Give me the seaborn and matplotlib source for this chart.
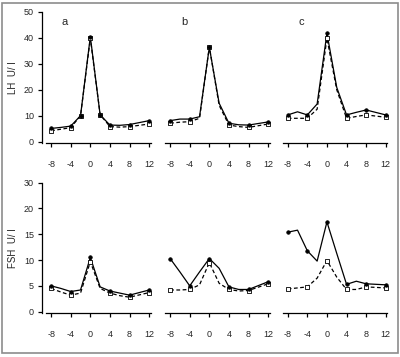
import pandas as pd
import matplotlib
matplotlib.use('Agg')
import matplotlib.pyplot as plt
import seaborn as sns
from matplotlib.patches import Rectangle

# days relative to the LH peak (line points)
days = [-8, -6, -4, -2, 0, 2, 4, 6, 8, 12]

# LH (U/l) - filled circles / solid line, open squares / dashed line
lh_a_filled = [5.1, 5.5, 6.0, 10.0, 40.4, 10.3, 6.4, 6.3, 6.6, 8.1]
lh_a_open = [4.2, 4.8, 5.4, 10.0, 39.8, 10.4, 5.8, 5.6, 5.8, 6.8]
lh_b_filled = [8.1, 8.7, 8.7, 9.6, 36.3, 14.8, 7.1, 6.5, 6.4, 7.6]
lh_b_open = [7.1, 7.5, 7.7, 9.0, 36.5, 14.0, 6.4, 5.8, 5.5, 6.8]
lh_c_filled = [10.3, 11.5, 10.3, 14.5, 41.7, 20.9, 10.3, 11.3, 12.2, 10.3]
lh_c_open = [9.0, 9.0, 9.0, 12.5, 39.8, 20.0, 9.0, 9.7, 10.3, 9.4]

# FSH (U/l)
fsh_a_filled = [5.0, 4.5, 3.9, 4.2, 10.5, 4.8, 4.0, 3.6, 3.2, 4.2]
fsh_a_open = [4.5, 3.8, 3.2, 3.6, 9.7, 4.5, 3.6, 3.1, 2.8, 3.7]
fsh_b_filled = [10.3, 7.7, 5.0, 7.7, 10.3, 8.4, 4.8, 4.3, 4.3, 5.8]
fsh_b_open = [4.2, 4.2, 4.3, 5.2, 9.5, 5.5, 4.3, 4.0, 4.1, 5.4]
fsh_c_filled = [15.4, 15.8, 11.8, 9.8, 17.4, 11.3, 5.3, 5.9, 5.4, 5.2]
fsh_c_open = [4.4, 4.6, 4.8, 6.5, 9.9, 6.7, 4.3, 4.3, 4.8, 4.6]

# days that carry a marker
marks_lh_a = [-8, -4, -2, 0, 2, 4, 8, 12]
marks_other = [-8, -4, 0, 4, 8, 12]

panel_letters = ['a', 'b', 'c']
xticks = [-8, -4, 0, 4, 8, 12]
lh_ticks = [0, 10, 20, 30, 40, 50]
fsh_ticks = [0, 5, 10, 15, 20, 25]
fsh_ticklabels = ['0', '5', '10', '15', '20', '30']

sns.set_theme(style='white')
plt.rcParams['font.family'] = ['Liberation Sans', 'DejaVu Sans']

W, H = 400, 357
fig = plt.figure(figsize=(W / 100, H / 100), dpi=100)
fig.patch.set_facecolor('white')
fig.patches.append(Rectangle((0.006, 0.012), 0.988, 0.98, transform=fig.transFigure,
                             fill=False, edgecolor='#8c8c8c', lw=1.2))

lefts = [42.3, 161.3, 278.9]
width = 109.3
rows = [
    dict(top=11.7, bottom=143.0, ylim=(-0.5, 50), ticks=lh_ticks, labels=[str(t) for t in lh_ticks],
         ylabel='LH  U/ l',
         data=[(lh_a_filled, lh_a_open), (lh_b_filled, lh_b_open), (lh_c_filled, lh_c_open)]),
    dict(top=182.7, bottom=313.2, ylim=(-0.3, 25), ticks=fsh_ticks, labels=fsh_ticklabels,
         ylabel='FSH  U/ l',
         data=[(fsh_a_filled, fsh_a_open), (fsh_b_filled, fsh_b_open), (fsh_c_filled, fsh_c_open)]),
]

for r, row in enumerate(rows):
    for p in range(3):
        ax = fig.add_axes([lefts[p] / W, 1 - row['bottom'] / H, width / W,
                           (row['bottom'] - row['top']) / H])
        filled, opened = row['data'][p]
        df = pd.DataFrame({'day': days, 'filled': filled, 'open': opened})
        marks = marks_lh_a if (r == 0 and p == 0) else marks_other
        dm = df[df['day'].isin(marks)]

        sns.lineplot(data=df, x='day', y='open', ax=ax, color='black', lw=0.9,
                     linestyle=(0, (3, 2)))
        sns.lineplot(data=df, x='day', y='filled', ax=ax, color='black', lw=0.9)
        sns.scatterplot(data=dm, x='day', y='open', ax=ax, marker='s', s=9,
                        facecolor='white', edgecolor='black', linewidth=0.6, zorder=3)
        sns.scatterplot(data=dm, x='day', y='filled', ax=ax, marker='o', s=7,
                        color='black', edgecolor='black', linewidth=0.4, zorder=4)

        ax.set_xlim(-9.8, 12.5)
        ax.set_ylim(*row['ylim'])
        ax.set_xlabel('')
        ax.set_ylabel('')
        ax.set_facecolor('none')
        for s in ['top', 'right']:
            ax.spines[s].set_visible(False)
        ax.spines['bottom'].set_bounds(-9, 12.3)
        ax.spines['bottom'].set_color('black')
        ax.spines['bottom'].set_linewidth(0.9)
        ax.set_xticks(xticks)
        ax.set_xticklabels([str(t) for t in xticks])
        ax.tick_params(axis='x', direction='out', length=3, width=0.9, pad=9,
                       labelsize=6.5, color='black', bottom=True)
        if p == 0:
            ax.spines['left'].set_color('black')
            ax.spines['left'].set_linewidth(0.9)
            ax.spines['left'].set_bounds(row['ylim'][0], row['ylim'][1])
            ax.set_yticks(row['ticks'])
            ax.set_yticklabels(row['labels'])
            ax.tick_params(axis='y', direction='out', length=3, width=0.9, pad=3,
                           labelsize=6.5, color='black', left=True)
            ax.set_ylabel(row['ylabel'], fontsize=7, labelpad=4)
        else:
            ax.spines['left'].set_visible(False)
            ax.set_yticks([])
        if r == 0:
            ax.text(0.18, 0.92, panel_letters[p], transform=ax.transAxes,
                    fontsize=8, ha='left', va='center')

fig.savefig('out.png', dpi=100, facecolor='white')
